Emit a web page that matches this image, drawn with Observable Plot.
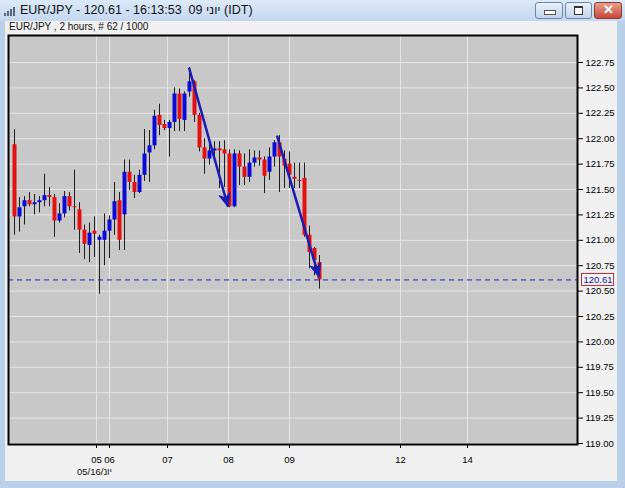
<!DOCTYPE html>
<html><head><meta charset="utf-8">
<script src="https://cdn.jsdelivr.net/npm/d3@7"></script>
<script src="https://cdn.jsdelivr.net/npm/@observablehq/plot@0.6"></script>
<style>
html,body{margin:0;padding:0;}
body{width:625px;height:488px;overflow:hidden;position:relative;background:#b9cfea;font-family:"Liberation Sans",Arial,sans-serif;}
#titlebar{position:absolute;left:0;top:0;width:625px;height:21px;background:linear-gradient(#dce9f8,#c3d7ef);}
#title{position:absolute;left:20px;top:3px;font-size:12.5px;color:#111;white-space:nowrap;direction:ltr;}
#icon{position:absolute;left:4px;top:6px;width:12px;height:10px;}
#icon span{position:absolute;bottom:0;width:2px;background:#55657a;}
#client{position:absolute;left:5px;top:21px;width:612px;height:460px;background:#f0f0f0;}
#hdr{position:absolute;left:9px;top:21px;font-size:10px;color:#111;white-space:nowrap;}
.btn{position:absolute;top:2px;height:15px;border:1px solid #6f86a6;border-radius:3px;background:linear-gradient(#eaf1fa,#c3d4ea);}
.btn.close{background:linear-gradient(#e8a08c,#c8463a);border-color:#8a3a30;}
#datelbl{position:absolute;left:77px;top:466px;font-size:9.5px;color:#111;white-space:nowrap;direction:ltr;}
#chart{position:absolute;left:0;top:0;}
.ib{display:inline-block;direction:rtl;}
</style></head>
<body>
<div id="titlebar"></div>
<div id="icon"><span style="left:0;height:3px"></span><span style="left:3px;height:5px"></span><span style="left:6px;height:7px"></span><span style="left:9px;height:9px"></span></div>
<div id="title"><span class="ibl" style="display:inline-block">EUR/JPY - 120.61 - 16:13:53&nbsp; 09</span>&nbsp;<span class="ib">יוני</span>&nbsp;<span style="display:inline-block">(IDT)</span></div>
<div class="btn" style="left:535px;width:26px"><div style="position:absolute;left:8px;top:7px;width:10px;height:3px;background:#fff;border:1px solid #555"></div></div>
<div class="btn" style="left:565px;width:25px"><div style="position:absolute;left:8px;top:3px;width:7px;height:6px;border:1px solid #333;border-top-width:2px;background:#fff"></div></div>
<div class="btn close" style="left:594px;width:26px"><div style="position:absolute;left:0;top:-1px;width:26px;text-align:center;color:#fff;font-weight:bold;font-size:13px;">✕</div></div>
<div id="client"></div>
<div id="hdr">EUR/JPY , 2 hours, # 62 / 1000</div>
<div id="datelbl"><span style="display:inline-block">05/16/</span><span class="ib">יונ</span></div>
<div id="chart"></div>
<script>
// ---- data (2-hour candles) ----
const opens  = [121.94,121.23,121.33,121.39,121.35,121.37,121.39,121.44,121.42,121.19,121.26,121.43,121.33,121.30,121.10,120.95,121.09,121.00,121.00,121.09,121.20,121.39,121.25,121.67,121.57,121.47,121.64,121.86,121.93,122.23,122.14,122.10,122.16,122.44,122.18,122.46,122.56,122.23,121.91,121.80,121.88,121.90,121.89,121.85,121.33,121.85,121.72,121.62,121.76,121.81,121.79,121.67,121.82,121.96,121.80,121.75,121.62,121.59,121.61,121.05,120.92,120.78];
const highs  = [122.09,121.42,121.43,121.47,121.45,121.43,121.65,121.52,121.45,121.36,121.48,121.47,121.69,121.37,121.15,121.17,121.23,121.05,121.26,121.24,121.57,121.47,121.79,121.79,121.64,121.69,122.09,122.08,122.28,122.34,122.18,122.18,122.50,122.49,122.46,122.70,122.57,122.25,122.00,121.97,121.97,121.97,121.98,121.89,121.89,121.88,121.85,121.89,121.88,121.88,121.82,121.91,121.98,122.03,121.88,121.87,121.76,121.76,121.76,121.14,120.93,120.85];
const lows   = [121.05,121.08,121.15,121.33,121.25,121.27,121.33,121.33,121.03,121.17,121.22,121.29,121.10,120.87,120.81,120.78,120.83,120.47,120.75,120.82,121.05,120.90,120.90,121.49,121.41,121.46,121.58,121.57,121.89,122.03,122.08,121.82,122.07,122.07,122.07,122.41,122.16,121.87,121.65,121.74,121.78,121.51,121.52,121.32,121.32,121.54,121.54,121.57,121.72,121.73,121.46,121.59,121.72,121.47,121.51,121.51,121.51,121.51,121.03,120.72,120.65,120.52];
const closes = [121.23,121.32,121.39,121.35,121.37,121.39,121.44,121.42,121.19,121.26,121.43,121.33,121.32,121.10,120.96,121.07,121.06,121.03,121.09,121.20,121.38,121.00,121.67,121.57,121.47,121.64,121.85,121.93,122.22,122.13,122.10,122.16,122.44,122.19,122.44,122.56,122.23,121.91,121.80,121.88,121.90,121.88,121.85,121.33,121.85,121.72,121.62,121.76,121.81,121.79,121.63,121.82,121.96,121.82,121.73,121.64,121.60,121.58,121.05,120.88,120.80,120.61];
const lastPrice = 120.61;
const yTicks = [119.00,119.25,119.50,119.75,120.00,120.25,120.50,120.75,121.00,121.25,121.50,121.75,122.00,122.25,122.50,122.75];
const dayLabels = ["05","06","07","08","09","12","14"];
const dayTickPos = [16.4,19.0,30.6,42.8,55.0,77.2,90.6];   // position on the bar-index axis
// drawn trend arrows (bar index, price)
const arrowX1 = [34.9, 52.5];
const arrowY1 = [122.70, 122.03];
const arrowX2 = [42.7, 60.9];
const arrowY2 = [121.33, 120.64];

const candles = opens.map((o,i)=>({i, open:o, high:highs[i], low:lows[i], close:closes[i]}));
const up = candles.filter(d=>d.close>=d.open);
const down = candles.filter(d=>d.close<d.open);
const arrows = arrowX1.map((x,k)=>({x1:x, y1:arrowY1[k], x2:arrowX2[k], y2:arrowY2[k]}));

const W=625,H=488, mL=8, mR=48, mT=35, mB=44;
const xDomain=[-1.2,112.6], yDomain=[118.99,123.016];
const sx=d3.scaleLinear(xDomain,[mL,W-mR]), sy=d3.scaleLinear(yDomain,[H-mB,mT]);
arrows.forEach(a=>{
  const dx=sx(a.x2)-sx(a.x1), dy=sy(a.y2)-sy(a.y1);
  a.rot = Math.atan2(dx,-dy)*180/Math.PI;
});
const arrowColor="#1c1cb4";
const head = {draw(ctx,l){ctx.moveTo(0,-l);ctx.lineTo(-5.5,0);ctx.lineTo(0,-l*0.3);ctx.lineTo(5.5,0);ctx.closePath();}};

const marks = [
  Plot.frame({fill:"#c8c8c8"}),
  Plot.gridY(yTicks,{stroke:"#e6e6e6",strokeOpacity:1}),
  Plot.gridX(dayTickPos,{stroke:"#e6e6e6",strokeOpacity:1}),
  Plot.ruleY([lastPrice],{stroke:"#2020c0",strokeDasharray:"5,4"}),
  Plot.ruleX(candles,{x:"i",y1:"low",y2:"high",stroke:"#1e1e1e"}),
  Plot.ruleX(up,{x:"i",y1:"open",y2:"close",stroke:"#0a0ad8",strokeWidth:4}),
  Plot.ruleX(down,{x:"i",y1:"open",y2:"close",stroke:"#e41010",strokeWidth:4}),
  Plot.link(arrows,{x1:"x1",y1:"y1",x2:"x2",y2:"y2",stroke:arrowColor,strokeWidth:2.5}),
  Plot.vector(arrows,{x:"x2",y:"y2",rotate:"rot",length:13,anchor:"end",shape:head,fill:arrowColor,stroke:arrowColor,strokeWidth:1}),
  Plot.frame({stroke:"#000",strokeWidth:2}),
  Plot.axisY(yTicks,{anchor:"right",tickFormat:d=>d.toFixed(2),tickSize:5,tickPadding:3,stroke:"#000"}),
  Plot.axisX(dayTickPos,{anchor:"bottom",tickFormat:(d,i)=>dayLabels[i],tickSize:4,tickPadding:8,stroke:"#000"}),
  Plot.text([lastPrice],{y:d=>d,frameAnchor:"right",dx:6,textAnchor:"start",text:d=>d.toFixed(2),fill:"#1010b0",className:"lastlbl"})
];
const plot = Plot.plot({
  width:W,height:H,marginLeft:mL,marginRight:mR,marginTop:mT,marginBottom:mB,
  style:{background:"transparent",fontFamily:"Liberation Sans, Arial, sans-serif",fontSize:"9.5px",color:"#000"},
  x:{domain:xDomain,axis:null},
  y:{domain:yDomain,axis:null},
  marks
});
document.getElementById("chart").appendChild(plot);
// box around last price label
const g = plot.querySelector("g.lastlbl");
if (g) {
  const t = g.querySelector("text");
  const b = t.getBBox();
  const r = document.createElementNS("http://www.w3.org/2000/svg","rect");
  r.setAttribute("x",b.x-2); r.setAttribute("y",b.y-0.5);
  r.setAttribute("width",b.width+3); r.setAttribute("height",b.height+1);
  r.setAttribute("fill","#f4f4f4"); r.setAttribute("stroke","#b83030");
  const tr = t.getAttribute("transform");
  if (tr) r.setAttribute("transform", tr);
  t.parentNode.insertBefore(r,t);
}
</script>
</body></html>
